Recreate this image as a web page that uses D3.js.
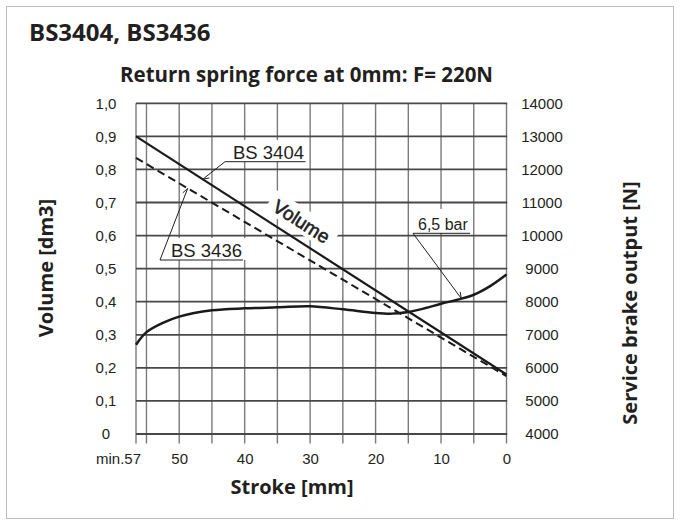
<!DOCTYPE html>
<html><head><meta charset="utf-8">
<script src="https://cdn.jsdelivr.net/npm/d3@7/dist/d3.min.js"></script>
<style>
html,body{margin:0;padding:0;background:#fff;}
svg{display:block;}
</style></head>
<body><svg id="c" width="680" height="525"></svg>
<script>
// ---- data ----
const chartTitle = "BS3404, BS3436";
const chartSubtitle = "Return spring force at 0mm: F= 220N";
const leftAxisTitle = "Volume [dm3]";
const rightAxisTitle = "Service brake output [N]";
const bottomAxisTitle = "Stroke [mm]";

const strokeDomain = [56.6, 0];
const gridStroke = [56.6, 55, 50, 45, 40, 35, 30, 25, 20, 15, 10, 5, 0];
const xTickValues = [50, 40, 30, 20, 10, 0];
const xMinLabel = "min.57";
const leftTicks = [0, 0.1, 0.2, 0.3, 0.4, 0.5, 0.6, 0.7, 0.8, 0.9, 1.0];
const rightTicks = [4000, 5000, 6000, 7000, 8000, 9000, 10000, 11000, 12000, 13000, 14000];

const volumeStroke = [56.6, 0];
const bs3404Volume = [0.9, 0.18];
const bs3436Volume = [0.835, 0.175];

const forceStroke = [56.6, 55, 52.5, 50, 45, 40, 35, 30, 25, 20, 17.5, 15, 12.5, 10, 7.5, 5, 2.5, 0];
const brakeForce  = [6700, 7080, 7360, 7550, 7740, 7800, 7830, 7860, 7770, 7660, 7640, 7690, 7800, 7940, 8060, 8210, 8470, 8820];

const seriesLabels = ["BS 3404", "BS 3436", "Volume", "6,5 bar"];
const bs3404LeaderAt = 46.4;
const bs3436LeaderAt = 48.7;
const barLeaderAt = 6.9;

// ---- layout ----
const svg = d3.select("#c");
const L = 136, R = 506.5, T = 103.3, B = 434, GB = 443.5;
const x = d3.scaleLinear().domain(strokeDomain).range([L, R]);
const yL = d3.scaleLinear().domain([0, 1]).range([B, T]);
const yR = d3.scaleLinear().domain([4000, 14000]).range([B, T]);
const fmtL = d => d === 0 ? "0" : d3.format(".1f")(d).replace(".", ",");
const ink = "#231f20";

// outer frame
svg.append("rect").attr("x", 6.5).attr("y", 6.5).attr("width", 667).attr("height", 512)
  .attr("fill", "none").attr("stroke", "#bdbdbd").attr("stroke-width", 1);

// titles
svg.append("text").attr("x", 29).attr("y", 40.5).text(chartTitle)
  .attr("font-family", "Open Sans").attr("font-weight", 700).attr("font-size", 24).attr("fill", ink);
svg.append("text").attr("x", 120).attr("y", 81.5).text(chartSubtitle)
  .attr("font-family", "Open Sans").attr("font-weight", 700).attr("font-size", 20.5).attr("fill", ink);

// grid: vertical
svg.append("g").selectAll("line").data(gridStroke).enter().append("line")
  .attr("x1", d => x(d)).attr("x2", d => x(d))
  .attr("y1", T).attr("y2", GB)
  .attr("stroke", "#7a7a7a").attr("stroke-width", 1.4);

// grid: horizontal
svg.append("g").selectAll("line").data(leftTicks).enter().append("line")
  .attr("x1", L).attr("x2", R + 0.7)
  .attr("y1", d => yL(d)).attr("y2", d => yL(d))
  .attr("stroke", "#484848").attr("stroke-width", 1.8);

// left labels
const al = svg.append("g").attr("transform", "translate(106,0)")
  .call(d3.axisLeft(yL).tickValues(leftTicks).tickSize(0).tickPadding(0).tickFormat(fmtL));
al.select(".domain").remove();
al.selectAll("text").attr("text-anchor", "middle").attr("x", 0)
  .attr("font-family", "Liberation Sans").attr("font-size", 15).attr("fill", ink);

// right labels
const ar = svg.append("g").attr("transform", "translate(542,0)")
  .call(d3.axisRight(yR).tickValues(rightTicks).tickSize(0).tickPadding(0).tickFormat(d3.format("d")));
ar.select(".domain").remove();
ar.selectAll("text").attr("text-anchor", "middle").attr("x", 0)
  .attr("font-family", "Liberation Sans").attr("font-size", 15).attr("fill", ink);

// bottom labels
const ab = svg.append("g").attr("transform", "translate(0,450)")
  .call(d3.axisBottom(x).tickValues(xTickValues).tickSize(0).tickPadding(0).tickFormat(d3.format("d")));
ab.select(".domain").remove();
ab.selectAll("text").attr("y", 0).attr("dy", "0.95em")
  .attr("font-family", "Liberation Sans").attr("font-size", 15).attr("fill", ink);
svg.append("text").attr("x", x(strokeDomain[0]) + 5).attr("y", 464).attr("text-anchor", "end")
  .text(xMinLabel).attr("font-family", "Liberation Sans").attr("font-size", 15).attr("fill", ink);

// axis titles
svg.append("text").attr("x", 292).attr("y", 493.5).attr("text-anchor", "middle").text(bottomAxisTitle)
  .attr("font-family", "Open Sans").attr("font-weight", 700).attr("font-size", 20).attr("fill", ink);
svg.append("text").attr("transform", "translate(53,268) rotate(-90)").attr("text-anchor", "middle").text(leftAxisTitle)
  .attr("font-family", "Open Sans").attr("font-weight", 700).attr("font-size", 20).attr("fill", ink);
svg.append("text").attr("transform", "translate(637,303) rotate(-90)").attr("text-anchor", "middle").text(rightAxisTitle)
  .attr("font-family", "Open Sans").attr("font-weight", 700).attr("font-size", 20).attr("fill", ink);

// label boxes (white)
const boxes = [[224, 140, 84, 22], [158, 238, 88, 22], [412, 209, 60, 24]];
svg.append("g").selectAll("rect").data(boxes).enter().append("rect")
  .attr("x", d => d[0]).attr("y", d => d[1]).attr("width", d => d[2]).attr("height", d => d[3]).attr("fill", "#fff");

// Volume label (rotated)
const ang = Math.atan2(yL(bs3404Volume[1]) - yL(bs3404Volume[0]), x(volumeStroke[1]) - x(volumeStroke[0])) * 180 / Math.PI;
const vg = svg.append("g").attr("transform", `translate(301.5,221.5) rotate(${ang})`);
vg.append("rect").attr("x", -38).attr("y", -13).attr("width", 76).attr("height", 24).attr("fill", "#fff");
vg.append("text").attr("text-anchor", "middle").attr("dy", "0.35em").text(seriesLabels[2])
  .attr("font-family", "Liberation Sans").attr("font-size", 19).attr("fill", ink)
  .attr("stroke", ink).attr("stroke-width", 0.6);

// lines
const lineV = d3.line().x(d => x(d[0])).y(d => yL(d[1]));
svg.append("path").datum(d3.zip(volumeStroke, bs3404Volume)).attr("d", lineV)
  .attr("fill", "none").attr("stroke", "#1a1a1a").attr("stroke-width", 2.2);
svg.append("path").datum(d3.zip(volumeStroke, bs3436Volume)).attr("d", lineV)
  .attr("fill", "none").attr("stroke", "#1a1a1a").attr("stroke-width", 2).attr("stroke-dasharray", "8,4.5");
const lineF = d3.line().x(d => x(d[0])).y(d => yR(d[1])).curve(d3.curveCatmullRom.alpha(0.5));
const forceData = d3.zip(forceStroke, brakeForce);
svg.append("path").datum(forceData).attr("d", lineF)
  .attr("fill", "none").attr("stroke", "#1a1a1a").attr("stroke-width", 2.5);

// annotation texts
const txt = (s, xx, yy, fs) => svg.append("text").attr("x", xx).attr("y", yy).text(s)
  .attr("font-family", "Liberation Sans").attr("font-size", fs).attr("fill", ink);
txt(seriesLabels[0], 233, 159, 18.5);
txt(seriesLabels[1], 171, 257, 18.5);
txt(seriesLabels[3], 418, 229.5, 16);

// leaders
const interp = (xs, ys, v) => d3.scaleLinear().domain(xs).range(ys)(v);
const forceAt = v => {
  for (let i = 0; i < forceStroke.length - 1; i++) {
    if (v <= forceStroke[i] && v >= forceStroke[i + 1])
      return interp([forceStroke[i], forceStroke[i + 1]], [brakeForce[i], brakeForce[i + 1]], v);
  }
  return brakeForce[brakeForce.length - 1];
};
const leaders = [
  [[305.5, 161.7], [225, 161.7], [x(bs3404LeaderAt), yL(interp(volumeStroke, bs3404Volume, bs3404LeaderAt))]],
  [[243, 260], [160, 260], [x(bs3436LeaderAt), yL(interp(volumeStroke, bs3436Volume, bs3436LeaderAt))]],
  [[470, 233.3], [413, 233.3], [x(barLeaderAt), yR(forceAt(barLeaderAt))]]
];
svg.append("g").selectAll("path").data(leaders).enter().append("path")
  .attr("d", d3.line()).attr("fill", "none").attr("stroke", ink).attr("stroke-width", 1);
// small arrow ticks at leader ends
svg.append("g").selectAll("path").data(leaders).enter().append("path")
  .attr("d", d => {
    const [p1, p2] = [d[1], d[2]];
    const dx = p2[0] - p1[0], dy = p2[1] - p1[1], len = Math.hypot(dx, dy);
    const ux = dx / len, uy = dy / len;
    const a = [p2[0] - ux * 6 + uy * 3, p2[1] - uy * 6 - ux * 3];
    return d3.line()([a, p2]);
  })
  .attr("fill", "none").attr("stroke", ink).attr("stroke-width", 1);
</script></body></html>
